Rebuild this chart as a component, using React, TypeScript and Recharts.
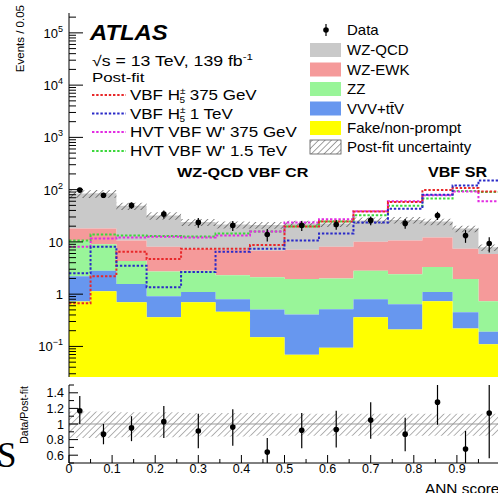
import React from 'react';
import {
  ComposedChart,
  Area,
  Line,
  Scatter,
  ErrorBar,
  XAxis,
  YAxis,
  ReferenceLine,
} from 'recharts';

const FONT = '"Liberation Sans", Arial, Helvetica, sans-serif';

// bin edges of the ANN score (variable width)
const EDGES = [0, 0.05, 0.11, 0.18, 0.26, 0.34, 0.42, 0.5, 0.58, 0.66, 0.74, 0.82, 0.89, 0.95, 1.0];

// post-fit backgrounds, per bin
const FAKE = [0.72, 1.14, 0.7, 0.36, 0.7, 0.46, 0.15, 0.069, 0.094, 0.36, 0.21, 0.73, 0.22, 0.11];
const VVV = [1.48, 1.66, 0.86, 0.55, 0.4, 0.34, 0.36, 0.34, 0.42, 0.44, 0.43, 0.37, 0.23, 0.08];
const ZZ = [8.3, 6.2, 2.74, 1.79, 1.7, 1.5, 1.59, 1.54, 1.49, 2.0, 1.76, 2.2, 1.5, 0.54];
const WZ_EWK = [7.5, 9.0, 6.3, 5.4, 4.6, 4.7, 4.7, 5.15, 6.1, 7.3, 8.2, 8.8, 5.45, 5.17];
const WZ_QCD = [66, 67, 38.4, 23.9, 16.6, 14.6, 14.2, 15.5, 14.5, 15.7, 15.8, 12.5, 10.6, 2.0];

// relative post-fit uncertainty (lower / upper edge)
const UNC_LO = [0.82, 0.82, 0.83, 0.83, 0.84, 0.84, 0.85, 0.85, 0.85, 0.85, 0.85, 0.85, 0.85, 0.85];
const UNC_HI = [1.16, 1.16, 1.15, 1.15, 1.14, 1.14, 1.14, 1.13, 1.13, 1.13, 1.13, 1.13, 1.13, 1.13];

// signals (dashed)
const SIG_H5_375 = [0.67, 2.2, 6.5, 4.7, 7.4, 7.4, 8.7, 19.8, 24.6, 38, 58, 98, 108, 92];
const SIG_H5_1000 = [2.5, 8.1, 3.5, 1.36, 2.65, 6.5, 7.4, 10.6, 14.5, 23.5, 43, 80, 120, 150];
const SIG_W_375 = [8.1, 11.6, 12.2, 12.6, 12.2, 13.3, 15.8, 23.6, 27, 38.6, 60, 78, 92, 60];
const SIG_W_1500 = [10.6, 13.8, 13.2, 13, 12.7, 14.5, 15.8, 19.8, 24.6, 32.5, 49, 68, 94, 90];

// data
const DATA = [98, 78, 50, 34, 23.6, 20.7, 13.9, 20.7, 21.6, 25.8, 22.6, 32, 13.2, 9.3];
const DATA_ERR = [10, 9, 7, 6, 5, 4.5, 3.7, 4.5, 4.6, 5, 4.8, 5.7, 3.6, 3];

// ratio panel
const RATIO = [1.17, 0.87, 0.95, 1.03, 0.91, 0.96, 0.64, 0.92, 0.93, 1.05, 0.87, 1.28, 0.68, 1.14];
const RATIO_ERR_LO = [0.17, 0.13, 0.17, 0.21, 0.22, 0.24, 0.14, 0.23, 0.23, 0.24, 0.22, 0.29, 0.18, 0.58];
const RATIO_ERR_HI = [0.19, 0.13, 0.15, 0.2, 0.22, 0.23, 0.18, 0.22, 0.24, 0.23, 0.21, 0.22, 0.23, 0.36];

// axis ticks
const MAIN_Y_MAJOR = [0.1, 1, 10, 100, 1000, 10000, 100000];
const MAIN_Y_BASE = ['10', '1', '10', '10', '10', '10', '10'];
const MAIN_Y_EXP = ['\u22121', '', '', '2', '3', '4', '5'];
const RATIO_Y_TICKS = [0.5, 0.6, 0.7, 0.8, 0.9, 1.0, 1.1, 1.2, 1.3, 1.4, 1.5];
const RATIO_Y_LABELS = ['', '0.6', '', '0.8', '', '1', '', '1.2', '', '1.4', ''];
const X_TICKS = [0, 0.05, 0.1, 0.15, 0.2, 0.25, 0.3, 0.35, 0.4, 0.45, 0.5, 0.55, 0.6, 0.65, 0.7, 0.75, 0.8, 0.85, 0.9, 0.95];
const X_LABELS = ['0', '', '0.1', '', '0.2', '', '0.3', '', '0.4', '', '0.5', '', '0.6', '', '0.7', '', '0.8', '', '0.9', ''];

const COLORS = {
  qcd: '#c9c9c9',
  ewk: '#f59a9a',
  zz: '#99f599',
  vvv: '#6797ef',
  fake: '#ffff00',
  h375: '#e8282a',
  h1000: '#2a2ac8',
  w375: '#e22ce2',
  w1500: '#3cd83c',
};

const FLOOR = 0.005;
const MAIN_DOMAIN: [number, number] = [0.026, 2.4e5];
const PLOT_L = 69;
const MAIN_B = 377;
const RATIO_H = 113;
const RATIO_B = RATIO_H - 30; // plot bottom inside the ratio svg
const N = FAKE.length;

const cum = (arrs: number[][]) => arrs[0].map((_, i) => arrs.reduce((s, a) => s + a[i], 0));
const C1 = cum([FAKE]);
const C2 = cum([FAKE, VVV]);
const C3 = cum([FAKE, VVV, ZZ]);
const C4 = cum([FAKE, VVV, ZZ, WZ_EWK]);
const TOT = cum([FAKE, VVV, ZZ, WZ_EWK, WZ_QCD]);

const mainRows = EDGES.map((x, i) => {
  const j = Math.min(i, N - 1);
  return {
    x,
    fake: [FLOOR, C1[j]],
    vvv: [C1[j], C2[j]],
    zz: [C2[j], C3[j]],
    ewk: [C3[j], C4[j]],
    qcd: [C4[j], TOT[j]],
    unc: [TOT[j] * UNC_LO[j], TOT[j] * UNC_HI[j]],
    h375: SIG_H5_375[j],
    h1000: SIG_H5_1000[j],
    w375: SIG_W_375[j],
    w1500: SIG_W_1500[j],
  };
});

const centers = DATA.map((_, i) => (EDGES[i] + EDGES[i + 1]) / 2);
const dataPts = DATA.map((y, i) => ({ x: centers[i], y, err: DATA_ERR[i] }));
const ratioRows = EDGES.map((x, i) => {
  const j = Math.min(i, N - 1);
  return { x, unc: [UNC_LO[j], UNC_HI[j]] };
});
const ratioPts = RATIO.map((y, i) => ({ x: centers[i], y, err: [RATIO_ERR_LO[i], RATIO_ERR_HI[i]] }));

const isDecade = (v: number) => Math.abs(Math.log10(v) - Math.round(Math.log10(v))) < 1e-6;
const MAIN_Y_TICKS: number[] = [];
for (let k = -2; k <= 5; k++) {
  for (let d = 1; d <= 9; d++) {
    const v = d * Math.pow(10, k);
    if (v >= MAIN_DOMAIN[0] && v <= MAIN_DOMAIN[1]) MAIN_Y_TICKS.push(v);
  }
}

function MainYTick(props: any) {
  const { y, payload } = props;
  const v = payload.value;
  const major = isDecade(v);
  const idx = MAIN_Y_MAJOR.findIndex((m) => Math.abs(m - v) / m < 1e-6);
  return (
    <g>
      <line x1={PLOT_L} x2={PLOT_L + (major ? 14 : 7)} y1={y} y2={y} stroke="#000" strokeWidth={1} />
      {idx >= 0 && (
        <text x={63} y={y + 5} textAnchor="end" fontSize={13} fontFamily={FONT} fill="#000">
          {MAIN_Y_BASE[idx]}
          {MAIN_Y_EXP[idx] && (
            <tspan dy={-6} fontSize={9}>
              {MAIN_Y_EXP[idx]}
            </tspan>
          )}
        </text>
      )}
    </g>
  );
}

function MainXTick(props: any) {
  const { x, index } = props;
  const major = X_LABELS[index] !== '';
  return <line x1={x} x2={x} y1={MAIN_B} y2={MAIN_B - (major ? 9 : 5)} stroke="#000" strokeWidth={1} />;
}

function RatioYTick(props: any) {
  const { y, index } = props;
  const label = RATIO_Y_LABELS[index];
  return (
    <g>
      <line x1={PLOT_L} x2={PLOT_L + (label ? 9 : 5)} y1={y} y2={y} stroke="#000" strokeWidth={1} />
      {label && (
        <text x={64} y={y + 4.5} textAnchor="end" fontSize={12.5} fontFamily={FONT} fill="#000">
          {label}
        </text>
      )}
    </g>
  );
}

function RatioXTick(props: any) {
  const { x, index } = props;
  const label = X_LABELS[index];
  return (
    <g>
      <line x1={x} x2={x} y1={RATIO_B} y2={RATIO_B - (label ? 8 : 4)} stroke="#000" strokeWidth={1} />
      {label && (
        <text x={x} y={RATIO_B + 10} textAnchor="middle" fontSize={12.5} fontFamily={FONT} fill="#000">
          {label}
        </text>
      )}
    </g>
  );
}

const dot = (p: any) => <circle cx={p.cx} cy={p.cy} r={2.8} fill="#000" />;

// horizontally stretched text, the figure's lettering runs wide
function SText({ x, y, sx, size, bold, italic, children }: any) {
  return (
    <text
      transform={`translate(${x},${y}) scale(${sx},1)`}
      fontSize={size}
      fontWeight={bold ? 'bold' : 'normal'}
      fontStyle={italic ? 'italic' : 'normal'}
      fill="#000"
    >
      {children}
    </text>
  );
}

const LEGEND_BOXES = [
  { label: 'WZ-QCD', color: COLORS.qcd, y: 50 },
  { label: 'WZ-EWK', color: COLORS.ewk, y: 69.5 },
  { label: 'ZZ', color: COLORS.zz, y: 89 },
  { label: 'VVV+tt\u0304V', color: COLORS.vvv, y: 108.5 },
  { label: 'Fake/non-prompt', color: COLORS.fake, y: 128 },
];

function Overlay() {
  const sigRows = [
    { color: COLORS.h375, y: 95, kind: 'h', rest: ' 375 GeV' },
    { color: COLORS.h1000, y: 113.5, kind: 'h', rest: ' 1 TeV' },
    { color: COLORS.w375, y: 132, kind: 'w', rest: "HVT VBF W' 375 GeV" },
    { color: COLORS.w1500, y: 151, kind: 'w', rest: "HVT VBF W' 1.5 TeV" },
  ];
  return (
    <svg
      width={498}
      height={493}
      style={{ position: 'absolute', left: 0, top: 0, pointerEvents: 'none' }}
      fontFamily={FONT}
    >
      <defs>
        <pattern id="legHatch" width="4.5" height="4.5" patternUnits="userSpaceOnUse" patternTransform="rotate(45)">
          <line x1="0" y1="0" x2="0" y2="4.5" stroke="#444" strokeWidth="1" />
        </pattern>
      </defs>
      <text transform="translate(24,5) rotate(-90)" textAnchor="end" fontSize={11.5} fill="#000">
        Events / 0.05
      </text>
      <text transform="translate(28,386) rotate(-90)" textAnchor="end" fontSize={10.5} fill="#000">
        Data/Post-fit
      </text>
      <text x={-3} y={467} fontSize={35} fontFamily='"Liberation Serif", "DejaVu Serif", serif' fill="#000">
        S
      </text>
      <SText x={425} y={494} sx={1.1} size={14}>
        ANN score
      </SText>

      <SText x={90} y={40} sx={1.11} size={21.5} bold italic>
        ATLAS
      </SText>
      <SText x={92} y={66} sx={1.22} size={14.5}>
        {'\u221As = 13 TeV, 139 fb'}
        <tspan dy={-6} fontSize={9.5}>
          -1
        </tspan>
      </SText>
      <SText x={92} y={82} sx={1.25} size={13.5}>
        Post-fit
      </SText>
      {sigRows.map((r) => (
        <g key={r.y}>
          <line x1={92} x2={126} y1={r.y} y2={r.y} stroke={r.color} strokeWidth={2} strokeDasharray="2.4 1.8" />
          {r.kind === 'h' ? (
            <SText x={130} y={r.y + 5} sx={1.17} size={14.5}>
              VBF H
              <tspan dy={-6} fontSize={8.5}>
                {'\u00B1'}
              </tspan>
              <tspan dx={-5} dy={9} fontSize={8.5}>
                5
              </tspan>
              <tspan dy={-3}>{r.rest}</tspan>
            </SText>
          ) : (
            <SText x={130} y={r.y + 5} sx={1.17} size={14.5}>
              {r.rest}
            </SText>
          )}
        </g>
      ))}
      <SText x={177} y={177} sx={1.2} size={13.5} bold>
        WZ-QCD VBF CR
      </SText>
      <SText x={428} y={177} sx={1.15} size={14} bold>
        VBF SR
      </SText>

      <line x1={326} x2={326} y1={24} y2={36} stroke="#000" strokeWidth={1.2} />
      <circle cx={326} cy={30} r={2.8} fill="#000" />
      <text x={347} y={35} fontSize={15} fill="#000">
        Data
      </text>
      {LEGEND_BOXES.map((b) => (
        <g key={b.label}>
          <rect x={310} y={b.y - 7} width={31} height={14} fill={b.color} />
          <text x={347} y={b.y + 5} fontSize={15} fill="#000">
            {b.label}
          </text>
        </g>
      ))}
      <rect x={310} y={140} width={31} height={14} fill="url(#legHatch)" stroke="#555" strokeWidth={0.8} />
      <text x={347} y={152} fontSize={15} fill="#000">
        Post-fit uncertainty
      </text>
    </svg>
  );
}

export default function App() {
  return (
    <div
      style={{
        position: 'absolute',
        left: 0,
        top: 0,
        width: 498,
        height: 493,
        overflow: 'hidden',
        background: '#fff',
      }}
    >
      <div style={{ position: 'absolute', left: 0, top: 0 }}>
        <ComposedChart width={510} height={382} data={mainRows} margin={{ top: 13, right: 10, left: 0, bottom: 5 }}>
          <defs>
            <pattern id="mainHatch" width="4.5" height="4.5" patternUnits="userSpaceOnUse" patternTransform="rotate(45)">
              <line x1="0" y1="0" x2="0" y2="4.5" stroke="#333" strokeWidth="1.1" />
            </pattern>
          </defs>
          <XAxis
            dataKey="x"
            type="number"
            domain={[0, 1]}
            ticks={X_TICKS}
            interval={0}
            height={0}
            tickLine={false}
            axisLine={{ stroke: '#000', strokeWidth: 1 }}
            tick={(p: any) => <MainXTick {...p} />}
          />
          <XAxis
            xAxisId="top"
            orientation="top"
            type="number"
            domain={[0, 1]}
            height={0}
            tick={false}
            tickLine={false}
            axisLine={{ stroke: '#000', strokeWidth: 1 }}
          />
          <YAxis
            scale="log"
            type="number"
            domain={MAIN_DOMAIN}
            allowDataOverflow
            ticks={MAIN_Y_TICKS}
            interval={0}
            width={PLOT_L}
            tickLine={false}
            axisLine={{ stroke: '#000', strokeWidth: 1 }}
            tick={(p: any) => <MainYTick {...p} />}
          />
          <Area type="stepAfter" dataKey="qcd" fill={COLORS.qcd} fillOpacity={1} stroke="none" isAnimationActive={false} />
          <Area type="stepAfter" dataKey="ewk" fill={COLORS.ewk} fillOpacity={1} stroke="none" isAnimationActive={false} />
          <Area type="stepAfter" dataKey="zz" fill={COLORS.zz} fillOpacity={1} stroke="none" isAnimationActive={false} />
          <Area type="stepAfter" dataKey="vvv" fill={COLORS.vvv} fillOpacity={1} stroke="none" isAnimationActive={false} />
          <Area type="stepAfter" dataKey="fake" fill={COLORS.fake} fillOpacity={1} stroke="none" isAnimationActive={false} />
          <Area type="stepAfter" dataKey="unc" fill="url(#mainHatch)" fillOpacity={1} stroke="none" isAnimationActive={false} />
          <Line type="stepAfter" dataKey="w1500" stroke={COLORS.w1500} strokeWidth={2} strokeDasharray="2.4 1.8" dot={false} isAnimationActive={false} />
          <Line type="stepAfter" dataKey="w375" stroke={COLORS.w375} strokeWidth={2} strokeDasharray="2.4 1.8" dot={false} isAnimationActive={false} />
          <Line type="stepAfter" dataKey="h375" stroke={COLORS.h375} strokeWidth={2} strokeDasharray="2.4 1.8" dot={false} isAnimationActive={false} />
          <Line type="stepAfter" dataKey="h1000" stroke={COLORS.h1000} strokeWidth={2} strokeDasharray="2.4 1.8" dot={false} isAnimationActive={false} />
          <ReferenceLine
            segment={[
              { x: 0.82, y: 0.02 },
              { x: 0.82, y: 300 },
            ]}
            stroke="#000"
            strokeWidth={1.5}
            strokeDasharray="1.5 2"
          />
          <Scatter data={dataPts} dataKey="y" shape={dot} isAnimationActive={false}>
            <ErrorBar dataKey="err" direction="y" width={0} stroke="#000" strokeWidth={1.2} isAnimationActive={false} />
          </Scatter>
        </ComposedChart>
      </div>
      <div style={{ position: 'absolute', left: 0, top: 380 }}>
        <ComposedChart width={510} height={RATIO_H} data={ratioRows} margin={{ top: 5, right: 10, left: 0, bottom: 0 }}>
          <defs>
            <pattern id="ratioHatch" width="4.5" height="4.5" patternUnits="userSpaceOnUse" patternTransform="rotate(45)">
              <line x1="0" y1="0" x2="0" y2="4.5" stroke="#666" strokeWidth="1" />
            </pattern>
          </defs>
          <XAxis
            dataKey="x"
            type="number"
            domain={[0, 1]}
            ticks={X_TICKS}
            interval={0}
            height={30}
            tickLine={false}
            axisLine={{ stroke: '#000', strokeWidth: 1 }}
            tick={(p: any) => <RatioXTick {...p} />}
          />
          <XAxis
            xAxisId="top"
            orientation="top"
            type="number"
            domain={[0, 1]}
            height={0}
            tick={false}
            tickLine={false}
            axisLine={{ stroke: '#000', strokeWidth: 1 }}
          />
          <YAxis
            type="number"
            domain={[0.5, 1.5]}
            allowDataOverflow
            ticks={RATIO_Y_TICKS}
            interval={0}
            width={PLOT_L}
            tickLine={false}
            axisLine={{ stroke: '#000', strokeWidth: 1 }}
            tick={(p: any) => <RatioYTick {...p} />}
          />
          <Area type="stepAfter" dataKey="unc" fill="url(#ratioHatch)" fillOpacity={1} stroke="none" isAnimationActive={false} />
          <ReferenceLine y={1} stroke="#999" strokeWidth={1} />
          <Scatter data={ratioPts} dataKey="y" shape={dot} isAnimationActive={false}>
            <ErrorBar dataKey="err" direction="y" width={0} stroke="#000" strokeWidth={1.2} isAnimationActive={false} />
          </Scatter>
        </ComposedChart>
      </div>
      <Overlay />
    </div>
  );
}
